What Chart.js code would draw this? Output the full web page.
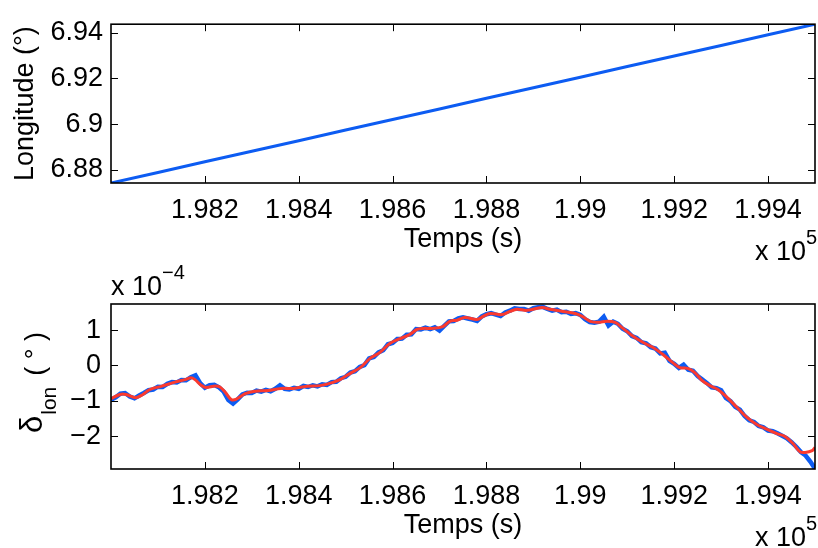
<!DOCTYPE html>
<html>
<head>
<meta charset="utf-8">
<script src="https://cdn.jsdelivr.net/npm/chart.js@4/dist/chart.umd.min.js"></script>
<style>
body { margin: 0; background: #fff; }
canvas { position: absolute; left: 0; }
#lonChart { top: 0; }
#deltaChart { top: 265px; }
</style>
</head>
<body>
<canvas id="lonChart" width="818" height="265"></canvas>
<canvas id="deltaChart" width="818" height="283"></canvas>
<script>
// time axis (s) and tick positions
const xMin = 198000, xMax = 199500;
const xTicks = [198200, 198400, 198600, 198800, 199000, 199200, 199400];

// top plot: longitude (deg)
const lonTime = [198000, 198100, 198200, 198300, 198400, 198500, 198600, 198700, 198800,
                 198900, 199000, 199100, 199200, 199300, 199400, 199500];
const lonValues = [6.8742, 6.8788, 6.8835, 6.8881, 6.8927, 6.8974, 6.9020, 6.9066, 6.9113,
                   6.9159, 6.9205, 6.9252, 6.9298, 6.9344, 6.9391, 6.9437];
const lonTicks = [6.88, 6.90, 6.92, 6.94];

// bottom plot: delta lon (x 1e-4 deg), raw every 10 s
const rawStart = 198000, rawStep = 10;
const deltaRaw = [
  -0.97, -0.90, -0.80, -0.78, -0.88, -0.93, -0.85, -0.78, -0.70, -0.68,
  -0.60, -0.61, -0.52, -0.47, -0.48, -0.41, -0.42, -0.33, -0.28, -0.50,
  -0.63, -0.56, -0.55, -0.62, -0.74, -0.98, -1.08, -0.96, -0.82, -0.77,
  -0.78, -0.71, -0.74, -0.69, -0.73, -0.66, -0.56, -0.66, -0.68, -0.63,
  -0.66, -0.58, -0.61, -0.56, -0.59, -0.53, -0.55, -0.47, -0.46, -0.36,
  -0.32, -0.20, -0.16, -0.04, 0.01, 0.20, 0.24, 0.37, 0.43, 0.60,
  0.64, 0.75, 0.76, 0.87, 0.88, 1.03, 1.02, 1.07, 1.03, 1.08,
  0.99, 1.12, 1.25, 1.26, 1.33, 1.36, 1.33, 1.30, 1.26, 1.39,
  1.45, 1.48, 1.44, 1.40, 1.50, 1.55, 1.62, 1.60, 1.60, 1.55,
  1.62, 1.65, 1.66, 1.60, 1.55, 1.58, 1.51, 1.52, 1.46, 1.48,
  1.43, 1.31, 1.23, 1.21, 1.24, 1.38, 1.13, 1.24, 1.18, 1.04,
  0.97, 0.83, 0.78, 0.66, 0.63, 0.52, 0.48, 0.34, 0.36, 0.13,
  0.05, -0.07, 0.02, -0.12, -0.15, -0.30, -0.40, -0.50, -0.62, -0.64,
  -0.70, -0.92, -1.01, -1.17, -1.25, -1.43, -1.55, -1.60, -1.71, -1.75,
  -1.84, -1.86, -1.92, -1.99, -2.06, -2.17, -2.30, -2.45, -2.55, -2.72,
  -2.92
];
const rawTime = deltaRaw.map((v, i) => rawStart + i * rawStep);

// smoothed curve
const smoothTime = [198000, 198019, 198032, 198053, 198068, 198083, 198107, 198136, 198158, 198170,
  198179, 198192, 198202, 198222, 198232, 198243, 198256, 198266, 198286, 198307,
  198335, 198362, 198388, 198418, 198445, 198473, 198492, 198509, 198531, 198552,
  198573, 198594, 198616, 198637, 198652, 198665, 198686, 198707, 198722, 198737,
  198754, 198780, 198793, 198808, 198833, 198850, 198865, 198886, 198918, 198935,
  198963, 198989, 199004, 199021, 199038, 199057, 199074, 199091, 199110, 199134,
  199155, 199176, 199197, 199212, 199229, 199244, 199259, 199276, 199293, 199313,
  199334, 199355, 199376, 199398, 199419, 199436, 199453, 199468, 199479, 199494, 199500];
const deltaSmooth = [-0.94, -0.82, -0.82, -0.91, -0.82, -0.68, -0.59, -0.47, -0.40, -0.35,
  -0.40, -0.56, -0.62, -0.58, -0.61, -0.75, -0.96, -0.96, -0.80, -0.73,
  -0.71, -0.65, -0.65, -0.59, -0.57, -0.48, -0.37, -0.23, -0.06, 0.20,
  0.37, 0.62, 0.76, 0.88, 1.02, 1.05, 1.05, 1.10, 1.25, 1.28,
  1.36, 1.30, 1.39, 1.47, 1.44, 1.53, 1.59, 1.56, 1.64, 1.59,
  1.53, 1.47, 1.39, 1.25, 1.22, 1.25, 1.22, 1.05, 0.85, 0.65,
  0.51, 0.31, 0.08, -0.06, -0.08, -0.20, -0.42, -0.57, -0.68, -0.91,
  -1.19, -1.47, -1.67, -1.81, -1.93, -2.01, -2.21, -2.44, -2.46, -2.41, -2.32];
const deltaTicks = [-2, -1, 0, 1];

const FONT = '"Liberation Sans", Arial, sans-serif';
Chart.defaults.font.family = FONT;
Chart.defaults.font.size = 27;
Chart.defaults.color = '#000';
Chart.defaults.animation = false;

function pts(xs, ys) {
    return xs.map((x, i) => ({x: x, y: ys[i]}));
}

// MATLAB-style box, inward ticks and exponent labels
const boxPlugin = {
    id: 'box',
    afterDraw(chart, args, opts) {
        const ctx = chart.ctx;
        const a = chart.chartArea;
        const xs = chart.scales.x, ys = chart.scales.y;
        ctx.save();
        ctx.strokeStyle = '#000';
        ctx.lineWidth = 1;
        ctx.beginPath();
        xs.ticks.forEach(t => {
            const px = Math.round(xs.getPixelForValue(t.value)) + 0.5;
            ctx.moveTo(px, a.bottom); ctx.lineTo(px, a.bottom - 7);
            ctx.moveTo(px, a.top); ctx.lineTo(px, a.top + 7);
        });
        ys.ticks.forEach(t => {
            const py = Math.round(ys.getPixelForValue(t.value)) + 0.5;
            ctx.moveTo(a.left, py); ctx.lineTo(a.left + 7, py);
            ctx.moveTo(a.right, py); ctx.lineTo(a.right - 7, py);
        });
        ctx.stroke();
        ctx.lineWidth = 1.6;
        ctx.strokeRect(a.left, a.top, a.right - a.left, a.bottom - a.top);

        ctx.fillStyle = '#000';
        ctx.textBaseline = 'alphabetic';
        ctx.textAlign = 'left';
        const big = '27px ' + FONT;
        const small = '20px ' + FONT;
        // x exponent
        ctx.font = big;
        ctx.fillText('x 10', 755, opts.xExpY);
        let w = ctx.measureText('x 10').width;
        ctx.font = small;
        ctx.fillText('5', 755 + w, opts.xExpY - 16);
        if (opts.yExp) {
            ctx.font = big;
            ctx.fillText('x 10', 111, opts.yExpY);
            w = ctx.measureText('x 10').width;
            ctx.font = small;
            ctx.fillText(opts.yExp, 111 + w, opts.yExpY - 16);
        }
        if (opts.deltaLabel) {
            ctx.translate(42, 0);
            ctx.rotate(-Math.PI / 2);
            ctx.font = '31px ' + FONT;
            let x0 = -a.bottom + 36;
            ctx.fillText('\u03b4', x0, 0);
            x0 += ctx.measureText('\u03b4').width + 1;
            ctx.font = '21px ' + FONT;
            ctx.fillText('lon', x0, 14);
            x0 += ctx.measureText('lon').width + 11;
            ctx.font = big;
            ctx.fillText('( \u00b0 )', x0, 2);
        }
        ctx.restore();
    }
};

function xAxis(height, titleBottom) {
    return {
        type: 'linear',
        min: xMin,
        max: xMax,
        grid: {display: false, drawTicks: false},
        border: {display: false},
        afterBuildTicks: s => { s.ticks = xTicks.map(v => ({value: v})); },
        afterFit: s => { s.height = height; },
        ticks: {
            padding: 11,
            maxRotation: 0,
            autoSkip: false,
            callback: v => (v / 1e5).toFixed(3).replace(/0+$/, '')
        },
        title: {display: true, text: 'Temps (s)', padding: {top: 0, bottom: titleBottom}}
    };
}

new Chart(document.getElementById('lonChart'), {
    type: 'line',
    data: {
        datasets: [{
            data: pts(lonTime, lonValues),
            borderColor: '#0d5cf2',
            borderWidth: 3,
            pointRadius: 0,
            tension: 0
        }]
    },
    options: {
        responsive: false,
        layout: {padding: {top: 18, right: 3, left: 0, bottom: 0}},
        plugins: {legend: {display: false}, tooltip: {enabled: false},
                  box: {xExpY: 260}},
        scales: {
            x: xAxis(82, 9),
            y: {
                min: 6.8742,
                max: 6.9437,
                grid: {display: false, drawTicks: false},
                border: {display: false},
                afterBuildTicks: s => { s.ticks = lonTicks.map(v => ({value: v})); },
                afterFit: s => { s.width = 111; },
                ticks: {padding: 8, callback: v => v.toFixed(2).replace(/0+$/, '')},
                title: {display: true, text: 'Longitude (\u00b0)', padding: {top: 9, bottom: 0}}
            }
        }
    },
    plugins: [boxPlugin]
});

new Chart(document.getElementById('deltaChart'), {
    type: 'line',
    data: {
        datasets: [{
            data: pts(smoothTime, deltaSmooth),
            borderColor: '#fb3a2e',
            borderWidth: 3,
            pointRadius: 0,
            tension: 0.35,
            order: 1
        }, {
            data: pts(rawTime, deltaRaw),
            borderColor: '#0d5cf2',
            borderWidth: 4.5,
            pointRadius: 0,
            tension: 0,
            order: 2
        }]
    },
    options: {
        responsive: false,
        layout: {padding: {top: 39, right: 3, left: 0, bottom: 0}},
        plugins: {legend: {display: false}, tooltip: {enabled: false},
                  box: {xExpY: 281, yExp: '\u22124', yExpY: 30, deltaLabel: true}},
        scales: {
            x: xAxis(79, 6),
            y: {
                min: -2.93,
                max: 1.74,
                grid: {display: false, drawTicks: false},
                border: {display: false},
                afterBuildTicks: s => { s.ticks = deltaTicks.map(v => ({value: v})); },
                afterFit: s => { s.width = 111; },
                ticks: {padding: 10, callback: v => v < 0 ? '\u2212' + (-v) : String(v)}
            }
        }
    },
    plugins: [boxPlugin]
});
</script>
</body>
</html>
